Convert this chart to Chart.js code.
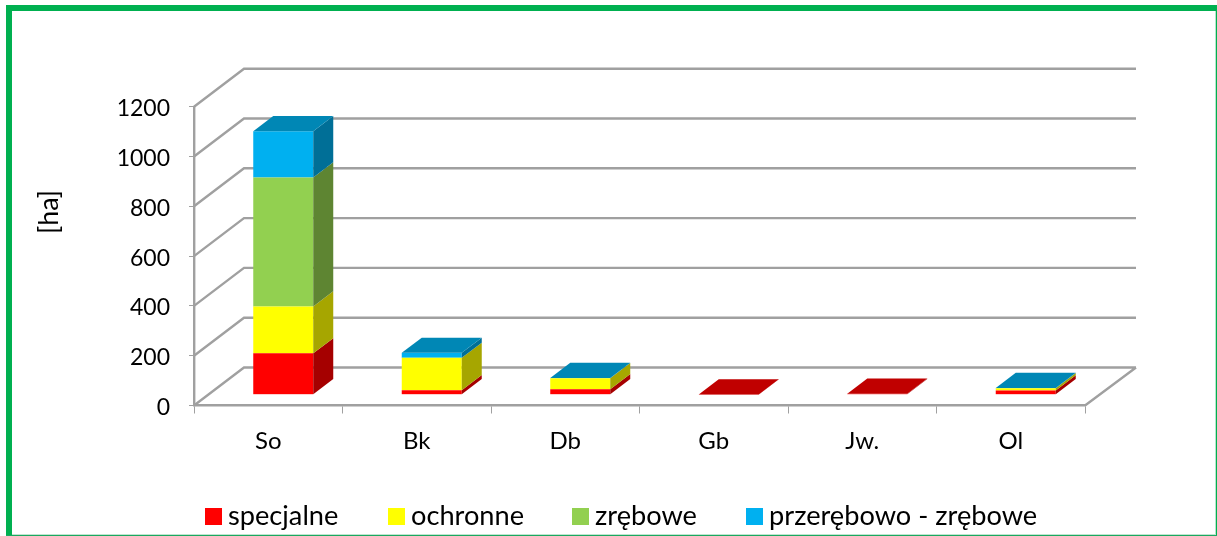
<!DOCTYPE html>
<html><head><meta charset="utf-8">
<style>html,body{margin:0;padding:0;background:#fff}canvas{display:block}</style>
<script src="https://cdn.jsdelivr.net/npm/chart.js@4"></script></head>
<body><canvas id="c" width="1217" height="536"></canvas>
<script>
const categories = ['So','Bk','Db','Gb','Jw.','Ol'];
const specjalne = [166,18,22,1,4,17];
const ochronne = [188,130,44,0,0,9];
const zrebowe = [518,0,0,0,0,0];
const przerebowo = [186,20,1,0,0,1];
const seriesNames = ['specjalne','ochronne','zrębowe','przerębowo - zrębowe'];
const frontColors = ['#FF0000','#FFFF00','#92D050','#00B0F0'];
const sideColors = ['#A50000','#A6A600','#5E8532','#006F97'];
const topColors = ['#C00000','#C0C000','#6E9C3C','#0087B5'];
const yMax = 1200, yStep = 200, FONT = 'Lato, Carlito, sans-serif', GRID = '#A0A0A0';
const wall = {dx:50, dy:38}, shift = {dx:15, dy:10.8}, depth = {dx:20, dy:15.2};
const legendX = [[205,228],[388,411],[572,595],[746,769]];

const scene = {
  id:'scene',
  beforeDraw(ch){
    const c = ch.ctx; c.save(); c.fillStyle='#00B050';
    c.fillRect(6,5,1211,6); c.fillRect(6,5,6,531); c.fillRect(1215.7,5,1.3,531);
    c.fillStyle='#BFE6D0'; c.fillRect(12,534,1204,1);
    c.fillStyle='#1AA860'; c.fillRect(6,535,1211,1);
    c.restore();
  },
  beforeDatasetsDraw(ch){
    const c = ch.ctx, y = ch.scales.y, a = ch.chartArea;
    c.save(); c.strokeStyle=GRID; c.lineWidth=2.4; c.beginPath();
    y.ticks.forEach(t=>{
      const p = y.getPixelForValue(t.value);
      c.moveTo(a.left,p); c.lineTo(a.left+wall.dx,p-wall.dy); c.lineTo(a.right+wall.dx+1,p-wall.dy);
    });
    const b = y.getPixelForValue(0);
    c.moveTo(a.right,b); c.lineTo(a.right+wall.dx+1,b-wall.dy);
    c.stroke(); c.restore();
    c.save(); c.translate(shift.dx,-shift.dy);
  },
  afterDatasetsDraw(ch){
    const c = ch.ctx;
    categories.forEach((_,i)=>{
      let last = -1;
      ch.data.datasets.forEach((d,k)=>{
        if(!d.data[i]) return;
        last = k;
        const e = ch.getDatasetMeta(k).data[i], r = e.x+e.width/2;
        c.fillStyle = sideColors[k];
        c.beginPath(); c.moveTo(r,e.base); c.lineTo(r+depth.dx,e.base-depth.dy);
        c.lineTo(r+depth.dx,e.y-depth.dy); c.lineTo(r,e.y); c.closePath(); c.fill();
      });
      if(last>=0){
        const e = ch.getDatasetMeta(last).data[i], l = e.x-e.width/2, r = e.x+e.width/2;
        c.fillStyle = topColors[last];
        c.beginPath(); c.moveTo(l,e.y); c.lineTo(l+depth.dx,e.y-depth.dy);
        c.lineTo(r+depth.dx,e.y-depth.dy); c.lineTo(r,e.y); c.closePath(); c.fill();
      }
    });
    c.restore();
  },
  afterDraw(ch){
    const c = ch.ctx, y = ch.scales.y; c.save();
    c.fillStyle='#000'; c.textBaseline='middle';
    c.font = '23px '+FONT; c.textAlign='right';
    y.ticks.forEach(t=>c.fillText(String(t.value),170,y.getPixelForValue(t.value)+2));
    c.font = '27.2px '+FONT; c.textAlign='left';
    ch.data.datasets.forEach((d,k)=>{
      c.fillStyle = d.backgroundColor; c.fillRect(legendX[k][0],508,17,17);
      c.fillStyle = '#000'; c.fillText(d.label,legendX[k][1],516);
    });
    c.font = '27px '+FONT;
    c.translate(49,212); c.rotate(-Math.PI/2); c.textAlign='center';
    c.fillText('[ha]',0,0);
    c.restore();
  }
};

new Chart(document.getElementById('c'),{
  type:'bar',
  data:{labels:categories,datasets:[specjalne,ochronne,zrebowe,przerebowo].map((v,k)=>({
    label:seriesNames[k],data:v,backgroundColor:frontColors[k],borderWidth:0,
    categoryPercentage:1,barPercentage:0.404
  }))},
  plugins:[scene],
  options:{
    responsive:false,animation:false,
    layout:{padding:{top:106.7,right:132,left:0,bottom:0}},
    plugins:{legend:{display:false},tooltip:{enabled:false}},
    scales:{
      x:{stacked:true,afterFit(s){s.height=130.5;},
        grid:{drawOnChartArea:false,drawTicks:true,tickLength:8,color:GRID,lineWidth:1},
        border:{display:true,color:GRID,width:2.4},
        ticks:{color:'#000',font:{family:FONT,size:24},padding:13,maxRotation:0,autoSkip:false}},
      y:{stacked:true,min:0,max:yMax,afterFit(s){s.width=194;},
        grid:{drawOnChartArea:false,drawTicks:true,tickLength:5,color:GRID,lineWidth:1},
        border:{display:true,color:GRID,width:2.4},
        ticks:{display:false,stepSize:yStep}}
    }
  }
});
</script></body></html>
